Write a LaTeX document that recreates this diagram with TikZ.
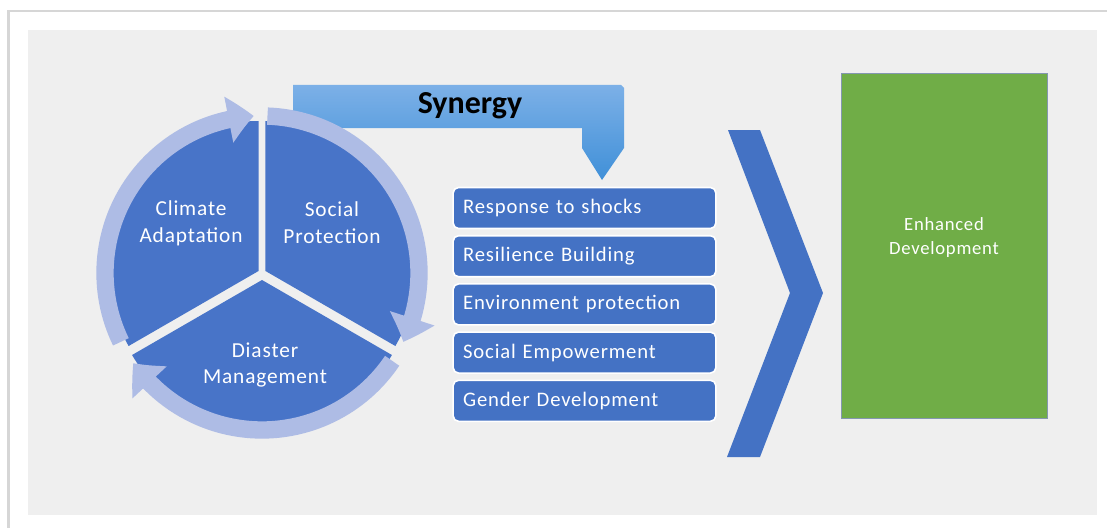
\documentclass[tikz,border=0pt]{standalone}
\usepackage{fontspec}
\setmainfont{Carlito}
\newfontfamily\boxfont{Carlito}[LetterSpace=4]
\usetikzlibrary{positioning,calc,arrows.meta,bending}

\definecolor{segblue}{RGB}{72,116,200}
\definecolor{boxblue}{RGB}{68,114,196}
\definecolor{ringblue}{RGB}{174,188,229}
\definecolor{paneltint}{RGB}{239,239,239}
\definecolor{cardshade}{RGB}{214,214,214}
\definecolor{leafgreen}{RGB}{112,173,71}
\definecolor{greenedge}{RGB}{132,151,176}
\definecolor{synlight}{RGB}{124,176,231}
\definecolor{syndark}{RGB}{64,144,216}

\tikzset{
  segment/.style={fill=segblue},
  ringarc/.style={draw=ringblue, line width=13pt, -{Triangle[width=34pt,length=19pt,bend]}},
  segtext/.style={text=white, align=center, font=\boxfont\fontsize{16}{20}\selectfont},
  listbox/.style={draw=white, line width=1.2pt, fill=boxblue, rounded corners=4pt,
    text=white, text width=182pt, inner xsep=7.5pt, minimum height=30.75pt,
    align=left, font=\boxfont\fontsize{15.5}{18}\selectfont},
  enhtext/.style={text=white, align=center, font=\boxfont\fontsize{14}{18.5}\selectfont},
}

\begin{document}
\begin{tikzpicture}[x=0.75pt,y=0.75pt,yscale=-1,xscale=1]
\useasboundingbox (0,0) rectangle (1107,528);

%Card and panel
\fill[white] (0,0) rectangle (1107,528);
\fill[cardshade] (7,10) rectangle (1107,528);
\fill[white] (10,12) rectangle (1107,528);
\fill[paneltint] (28,30) rectangle (1097,515);

%Synergy bent arrow
\shade[top color=synlight, bottom color=syndark]
  (293,85) -- (621,85) -- (624,88) -- (624,148) -- (602,180) -- (582,148) -- (582,128) -- (293,128) -- cycle;
% Text Node
\node[font=\bfseries\fontsize{24}{28}\selectfont] (syn) at (470,106) {Synergy};

%Pie segments
\coordinate (cc) at (262,273);
\fill[segment] ($(cc)+(-150:4)$) -- ++(-90:150) arc[start angle=-90, end angle=-210, radius=150] -- cycle;
\fill[segment] ($(cc)+(-30:4)$) -- ++(-90:150) arc[start angle=-90, end angle=30, radius=150] -- cycle;
\fill[segment] ($(cc)+(90:7)$) -- ++(30:150) arc[start angle=30, end angle=150, radius=150] -- cycle;

%Curve Lines round the pie
\draw[ringarc] ($(cc)+(-206:157)$) arc[start angle=-206, end angle=-93, radius=157];
\draw[ringarc] ($(cc)+(-88:157)$) arc[start angle=-88, end angle=26, radius=157];
\draw[ringarc] ($(cc)+(34:157)$) arc[start angle=34, end angle=145, radius=157];

% Text Node
\node[segtext] (clim) at (191,223) {Climate\\Adaptation};
% Text Node
\node[segtext] (soc) at (332,223) {Social\\Protection};
% Text Node
\node[segtext] (dis) at (265,365) {Diaster\\Management};

%List of outcomes
\node[listbox] (resp) at (584.5,208) {Response to shocks};
\node[listbox, below=4.2pt of resp] (resil) {Resilience Building};
\node[listbox, below=4.2pt of resil] (envp) {Environment protection};
\node[listbox, below=4.2pt of envp] (socemp) {Social Empowerment};
\node[listbox, below=4.2pt of socemp] (gend) {Gender Development};

%Chevron
\fill[boxblue] (728,130) -- (760,130) -- (823,293) -- (760,457) -- (727,457) -- (790,293) -- cycle;

%Result box
\node[draw=greenedge, fill=leafgreen, line width=0.6pt, minimum width=154.5pt, minimum height=258.75pt] (enh) at (944,245.5) {};
% Text Node
\node[enhtext] (enhlabel) at ($(enh.center)+(0,-8)$) {Enhanced\\Development};

\end{tikzpicture}
\end{document}
